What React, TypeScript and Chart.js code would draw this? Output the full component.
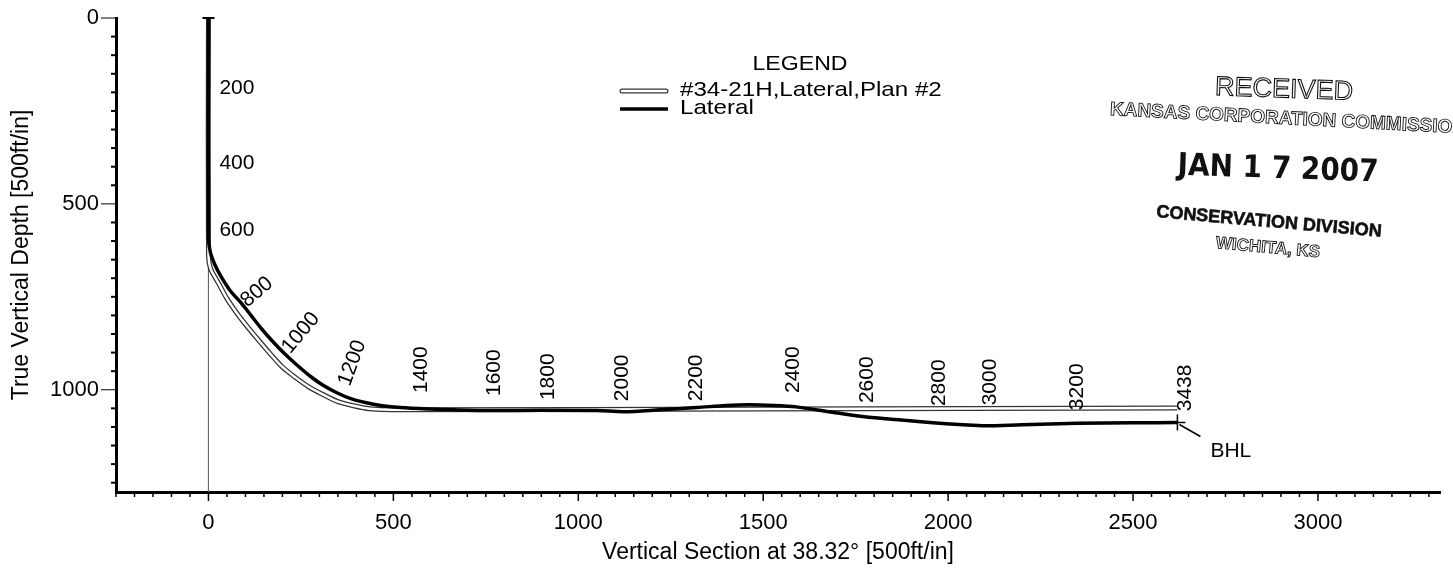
import React, { useEffect, useRef } from 'react';
import { Chart, registerables } from 'chart.js';
Chart.register(...registerables);

// Actual lateral (vertical section ft, true vertical depth ft)
const lateralVS = [0, 0, 5, 18, 35, 60, 89, 115, 142, 172, 204, 240, 277, 310, 347, 385, 427, 470, 519, 600, 661, 763, 900, 1051, 1124, 1220, 1320, 1400, 1462, 1530, 1589, 1677, 1768, 1858, 1950, 2040, 2100, 2200, 2350, 2500, 2620];
const lateralTVD = [0, 590, 630, 665, 697, 735, 767, 800, 834, 868, 901, 934, 965, 988, 1008, 1024, 1035, 1043, 1048, 1052, 1054, 1056, 1055, 1056, 1059, 1054, 1048, 1042, 1040, 1042, 1046, 1059, 1072, 1080, 1088, 1094, 1097, 1094, 1090, 1089, 1088];

// Plan #2
const planVS = [0, 0, 6, 27, 50, 77, 105, 135, 166, 199, 234, 271, 310, 350, 392, 435, 500, 1500, 2620];
const planTVD = [0, 638, 675, 713, 755, 794, 830, 866, 902, 938, 966, 992, 1013, 1032, 1043, 1051, 1054, 1052, 1049];

// Measured depth labels along the lateral
const mdLabels = ['200', '400', '600', '800', '1000', '1200', '1400', '1600', '1800', '2000', '2200', '2400', '2600', '2800', '3000', '3200', '3438'];
const mdLabelVS = [77, 77, 77, 131, 250, 389, 574, 772, 918, 1120, 1320, 1580, 1780, 1975, 2113, 2350, 2640];
const mdLabelTVD = [188, 391, 571, 737, 847, 928, 946, 954, 965, 968, 968, 946, 973, 981, 979, 992, 995];
const mdLabelAngle = [0, 0, 0, -40, -50, -70, -90, -90, -90, -90, -90, -90, -90, -90, -90, -90, -90];

const bhlVS = [2620];
const bhlTVD = [1088];

const legendTitle = 'LEGEND';
const legendNames = ['#34-21H,Lateral,Plan #2', 'Lateral'];

const xMin = -250;
const xMax = 3330;
const yMin = 0;
const yMax = 1275;
const tickStep = 50;
const majorStep = 500;

const FONT = "'Liberation Sans', Arial, Helvetica, sans-serif";

const toPts = (xs: number[], ys: number[]) => xs.map((x, i) => ({ x, y: ys[i] }));

const drawPlugin = {
  id: 'wellDecor',
  afterDraw(chart: any) {
    const ctx = chart.ctx;
    const xs = chart.scales.x;
    const ys = chart.scales.y;
    const area = chart.chartArea;
    ctx.save();

    // axis ticks
    ctx.strokeStyle = '#000';
    for (let v = xMin; v <= xMax; v += tickStep) {
      const px = xs.getPixelForValue(v);
      const major = v % majorStep === 0;
      ctx.lineWidth = 1.5;
      ctx.beginPath();
      ctx.moveTo(px, area.bottom);
      ctx.lineTo(px, area.bottom + (major ? 9 : 5));
      ctx.stroke();
    }
    for (let v = yMin; v <= yMax; v += tickStep) {
      const py = ys.getPixelForValue(v);
      const major = v % majorStep === 0;
      ctx.lineWidth = major ? 1 : 2;
      ctx.beginPath();
      ctx.moveTo(area.left, py);
      ctx.lineTo(area.left - (major ? 15 : 5), py);
      ctx.stroke();
    }

    // surface marker
    const sx = xs.getPixelForValue(0);
    const sy = ys.getPixelForValue(0);
    ctx.lineWidth = 2;
    ctx.beginPath();
    ctx.moveTo(sx - 6, sy);
    ctx.lineTo(sx + 6, sy);
    ctx.stroke();

    // MD labels
    ctx.fillStyle = '#000';
    ctx.font = `21px ${FONT}`;
    ctx.textAlign = 'center';
    ctx.textBaseline = 'middle';
    mdLabels.forEach((t, i) => {
      const px = xs.getPixelForValue(mdLabelVS[i]);
      const py = ys.getPixelForValue(mdLabelTVD[i]);
      ctx.save();
      ctx.translate(px, py);
      ctx.rotate((mdLabelAngle[i] * Math.PI) / 180);
      ctx.fillText(t, 0, 0);
      ctx.restore();
    });

    // BHL
    const bx = xs.getPixelForValue(bhlVS[0]);
    const by = ys.getPixelForValue(bhlTVD[0]);
    ctx.lineWidth = 1.5;
    ctx.beginPath();
    ctx.moveTo(bx - 8, by);
    ctx.lineTo(bx + 8, by);
    ctx.moveTo(bx, by - 8);
    ctx.lineTo(bx, by + 8);
    ctx.moveTo(bx + 2, by + 2);
    ctx.lineTo(bx + 23, by + 14);
    ctx.stroke();
    ctx.textAlign = 'left';
    ctx.font = `21px ${FONT}`;
    ctx.fillText('BHL', bx + 33, by + 29);

    // Legend
    const wide = (text: string, x: number, y: number, sx2: number, align: 'left' | 'center') => {
      ctx.save();
      ctx.translate(x, y);
      ctx.scale(sx2, 1);
      ctx.textAlign = align;
      ctx.fillText(text, 0, 0);
      ctx.restore();
    };
    ctx.font = `21px ${FONT}`;
    wide(legendTitle, 800, 64, 1.1, 'center');
    ctx.lineCap = 'round';
    ctx.strokeStyle = '#333';
    ctx.lineWidth = 5;
    ctx.beginPath();
    ctx.moveTo(622, 91);
    ctx.lineTo(666, 91);
    ctx.stroke();
    ctx.strokeStyle = '#fff';
    ctx.lineWidth = 2.5;
    ctx.beginPath();
    ctx.moveTo(622, 91);
    ctx.lineTo(666, 91);
    ctx.stroke();
    ctx.strokeStyle = '#000';
    ctx.lineWidth = 3.5;
    ctx.lineCap = 'butt';
    ctx.beginPath();
    ctx.moveTo(620, 109);
    ctx.lineTo(668, 109);
    ctx.stroke();
    wide(legendNames[0], 680, 90, 1.15, 'left');
    wide(legendNames[1], 680, 108, 1.15, 'left');

    // Stamp
    const stamp = (text: string, x: number, y: number, angle: number, font: string, mode: 'fill' | 'stroke' | 'both', lw = 1) => {
      ctx.save();
      ctx.translate(x, y);
      ctx.rotate((angle * Math.PI) / 180);
      ctx.font = font;
      ctx.textAlign = 'center';
      ctx.textBaseline = 'middle';
      ctx.lineWidth = lw;
      ctx.strokeStyle = '#111';
      ctx.fillStyle = '#111';
      if (mode === 'fill' || mode === 'both') ctx.fillText(text, 0, 0);
      if (mode === 'stroke' || mode === 'both') ctx.strokeText(text, 0, 0);
      ctx.restore();
    };
    stamp('RECEIVED', 1284, 90, 2, `27px ${FONT}`, 'stroke', 1.1);
    stamp('KANSAS CORPORATION COMMISSION', 1288, 119, 3, `bold 19px ${FONT}`, 'stroke', 0.9);
    stamp('JAN 1 7 2007', 1278, 170, 2, `bold 31px 'DejaVu Sans Condensed', ${FONT}`, 'fill');
    stamp('CONSERVATION DIVISION', 1269, 222, 5, `bold 18px ${FONT}`, 'both', 0.6);
    stamp('WICHITA, KS', 1268, 248, 5, `bold 17px ${FONT}`, 'stroke', 0.9);

    ctx.restore();
  },
};

export default function App() {
  const ref = useRef<HTMLCanvasElement | null>(null);
  useEffect(() => {
    if (!ref.current) return;
    const chart = new Chart(ref.current, {
      type: 'scatter',
      data: {
        datasets: [
          {
            label: 'Lateral',
            data: toPts(lateralVS, lateralTVD),
            showLine: true,
            borderColor: '#000',
            borderWidth: 3.5,
            pointRadius: 0,
            tension: 0.3,
            order: 0,
          },
          {
            label: 'plan-inner',
            data: toPts(planVS, planTVD),
            showLine: true,
            borderColor: '#fff',
            borderWidth: 2.5,
            pointRadius: 0,
            tension: 0.3,
            order: 1,
          },
          {
            label: '#34-21H,Lateral,Plan #2',
            data: toPts(planVS, planTVD),
            showLine: true,
            borderColor: '#333',
            borderWidth: 5,
            pointRadius: 0,
            tension: 0.3,
            order: 2,
          },
          {
            label: 'vs0',
            data: [{ x: 0, y: yMin }, { x: 0, y: yMax }],
            showLine: true,
            borderColor: '#666',
            borderWidth: 1,
            pointRadius: 0,
            order: 3,
          },
        ],
      },
      options: {
        animation: false,
        responsive: true,
        maintainAspectRatio: false,
        layout: { padding: { top: 18, right: 13, left: 0, bottom: 0 } },
        plugins: { legend: { display: false }, tooltip: { enabled: false } },
        scales: {
          x: {
            type: 'linear',
            min: xMin,
            max: xMax,
            border: { display: true, width: 3, color: '#000' },
            grid: { display: true, drawOnChartArea: false, drawTicks: true, tickLength: 9, color: 'transparent' },
            ticks: {
              stepSize: tickStep,
              autoSkip: false,
              maxRotation: 0,
              padding: 9,
              color: '#000',
              font: { family: FONT, size: 22 },
              callback: (v: any) => (Number(v) % majorStep === 0 ? String(v) : ''),
            },
            title: {
              display: true,
              text: 'Vertical Section at 38.32° [500ft/in]',
              color: '#000',
              font: { family: FONT, size: 23 },
              padding: { top: 2, bottom: 8 },
            },
            afterFit: (s: any) => {
              s.height = 82;
            },
          },
          y: {
            type: 'linear',
            reverse: true,
            min: yMin,
            max: yMax,
            border: { display: true, width: 3, color: '#000' },
            grid: { display: true, drawOnChartArea: false, drawTicks: true, tickLength: 15, color: 'transparent' },
            ticks: {
              stepSize: tickStep,
              autoSkip: false,
              padding: 2,
              color: '#000',
              font: { family: FONT, size: 22 },
              callback: (v: any) => (Number(v) % majorStep === 0 ? String(v) : ''),
            },
            title: {
              display: true,
              text: 'True Vertical Depth [500ft/in]',
              color: '#000',
              font: { family: FONT, size: 23 },
              padding: { top: 8, bottom: 0 },
            },
            afterFit: (s: any) => {
              s.width = 116;
            },
          },
        },
      },
      plugins: [drawPlugin],
    });
    return () => chart.destroy();
  }, []);
  return (
    <div style={{ position: 'absolute', left: 0, top: 0, width: 1453, height: 574, background: '#fff' }}>
      <canvas ref={ref} />
    </div>
  );
}
